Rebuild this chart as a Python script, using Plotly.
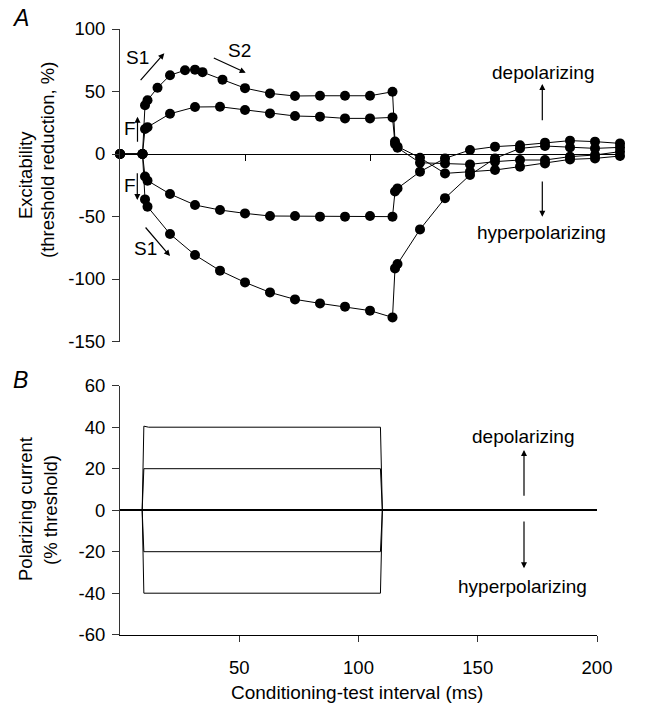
import plotly.graph_objects as go

# ---------------- data (Panel A: excitability, % threshold reduction) ----------------
x_d40 = [0, 9, 10, 11, 15, 20, 26, 30, 33, 41, 50, 60, 70, 80, 90, 100, 109, 110, 111,
         120, 130, 140, 150, 160, 170, 180, 190, 200]
y_d40 = [0, 0, 39, 43, 53, 63, 67, 67.5, 65.5, 59.5, 52.7, 48.5, 46.4, 46.6, 46.6, 46.6, 49.8, 10, 6,
         -3, -15.5, -14, -12.8, -10.1, -7.5, -4.3, -3.5, -1.6]

x_d20 = [0, 9, 10, 11, 20, 30, 40, 50, 60, 70, 80, 90, 100, 109, 110, 111,
         120, 130, 140, 150, 160, 170, 180, 190, 200]
y_d20 = [0, 0, 20, 21.5, 32.2, 37.6, 37.8, 35.2, 32.5, 30.4, 29.9, 28.5, 28.5, 29.3, 8, 5,
         -7, -7.5, -8.3, -6.1, -4.8, -4.8, -2.1, -0.8, 1.9]

x_h20 = [0, 9, 10, 11, 20, 30, 40, 50, 60, 70, 80, 90, 100, 109, 110, 111,
         120, 130, 140, 150, 160, 170, 180, 190, 200]
y_h20 = [0, 0, -18, -21.3, -32, -40.8, -44.8, -47.5, -49.6, -49.6, -50.1, -50.1, -49.6, -50.1, -30, -27.5,
         -14.1, -3.5, 3.2, 5.9, 7, 9.1, 10.7, 9.9, 8.5]

x_h40 = [0, 9, 10, 11, 20, 30, 40, 50, 60, 70, 80, 90, 100, 109, 110, 111,
         120, 130, 140, 150, 160, 170, 180, 190, 200]
y_h40 = [0, 0, -36.3, -42.1, -64, -80.8, -93.3, -102.7, -110.7, -116.3, -119.5, -122.1, -125.3, -130.7, -91.5, -88,
         -60.3, -35.3, -16.8, -3.5, 4.5, 6.4, 5.3, 4.5, 5.3]

# ---------------- data (Panel B: polarizing current, % threshold) ----------------
x_cur = [0, 9.3, 10, 12, 109.2, 110, 200]
cur_p40 = [0, 0, 40.5, 40, 40, 0, 0]
cur_p20 = [0, 0, 20, 20, 20, 0, 0]
cur_m20 = [0, 0, -20, -20, -20, 0, 0]
cur_m40 = [0, 0, -40, -40, -40, 0, 0]

yticks_a = [-150, -100, -50, 0, 50, 100]
yticks_b = [-60, -40, -20, 0, 20, 40, 60]
xticks = [50, 100, 150, 200]

W, H = 645, 705
FONT = "Liberation Sans, Arial, Helvetica, sans-serif"
FS = 18.5      # tick labels
FT = 19        # titles / annotations


def px(x):
    return x / W


def py(y):
    return 1 - y / H


fig = go.Figure()

for xs, ys in [(x_d40, y_d40), (x_d20, y_d20), (x_h20, y_h20), (x_h40, y_h40)]:
    fig.add_trace(go.Scatter(
        x=xs, y=ys, mode="lines+markers", xaxis="x", yaxis="y",
        line=dict(color="black", width=1),
        marker=dict(color="black", size=10),
        cliponaxis=False, showlegend=False, hoverinfo="skip"))

for ys in [cur_p40, cur_p20, cur_m20, cur_m40]:
    fig.add_trace(go.Scatter(
        x=x_cur, y=ys, mode="lines", xaxis="x2", yaxis="y2",
        line=dict(color="black", width=1),
        cliponaxis=False, showlegend=False, hoverinfo="skip"))

axcol = "#333333"
fig.update_layout(
    width=W, height=H, autosize=False,
    margin=dict(l=0, r=0, t=0, b=0, pad=0),
    paper_bgcolor="white", plot_bgcolor="white",
    font=dict(family=FONT, size=FS, color="black"),
    xaxis=dict(domain=[px(120), px(620)], range=[0, 200], anchor="free", position=py(154),
               showline=True, linecolor="black", linewidth=1, ticks="outside", ticklen=6,
               tickcolor="black", tickvals=xticks, showticklabels=False,
               showgrid=False, zeroline=False, automargin=False),
    yaxis=dict(domain=[py(341.5), py(29)], range=[-150, 100], anchor="x",
               showline=True, linecolor=axcol, linewidth=1, ticks="outside", ticklen=7,
               tickcolor=axcol, tickvals=yticks_a, ticktext=[str(v) for v in yticks_a],
               showgrid=False, zeroline=False, automargin=False,
               tickfont=dict(size=FS), ticklabelstandoff=3),
    xaxis2=dict(domain=[px(120), px(597)], range=[0, 200], anchor="y2",
                showline=True, linecolor="black", linewidth=1, ticks="outside", ticklen=6,
                tickcolor=axcol, tickvals=xticks, ticktext=[str(v) for v in xticks],
                showgrid=False, zeroline=False, automargin=False,
                tickfont=dict(size=FS), ticklabelstandoff=10),
    yaxis2=dict(domain=[py(634.7), py(385.7)], range=[-60, 60], anchor="x2",
                showline=True, linecolor=axcol, linewidth=1, ticks="outside", ticklen=7,
                tickcolor=axcol, tickvals=yticks_b, ticktext=[str(v) for v in yticks_b],
                showgrid=False, automargin=False,
                zeroline=True, zerolinecolor="black", zerolinewidth=1.5,
                tickfont=dict(size=FS), ticklabelstandoff=3),
)

ann = []


def text(t, x, y, size=FT, angle=0):
    ann.append(dict(text=t, x=px(x), y=py(y), xref="paper", yref="paper",
                    showarrow=False, xanchor="center", yanchor="middle",
                    textangle=angle, font=dict(size=size, family=FONT, color="black")))


def arrow(tail, head):
    ann.append(dict(text="", x=px(head[0]), y=py(head[1]), xref="paper", yref="paper",
                    ax=tail[0] - head[0], ay=tail[1] - head[1],
                    showarrow=True, arrowhead=2, arrowsize=1, arrowwidth=1.2,
                    arrowcolor="black"))


text("<i>A</i>", 20, 18, size=23)
text("<i>B</i>", 20, 380, size=23)
text("Excitability", 25, 175, size=18.5, angle=-90)
text("(threshold reduction, %)", 47, 160, size=18.5, angle=-90)
text("Polarizing current", 25, 509, size=18.5, angle=-90)
text("(% threshold)", 50, 510, size=18.5, angle=-90)
text("Conditioning-test interval (ms)", 357, 692)

text("S1", 137, 57)
text("S2", 239, 51)
text("F", 130, 129)
text("F", 130, 185)
text("S1", 145, 249)
text("depolarizing", 543, 72)
text("hyperpolarizing", 541, 232)
text("depolarizing", 523, 436)
text("hyperpolarizing", 522, 586)

arrow((139.3, 81.7), (164.3, 53.3))
arrow((212.3, 57.3), (245.7, 72.7))
arrow((137.5, 143.3), (137.5, 116.7))
arrow((137.3, 171.7), (137.3, 200))
arrow((144.3, 226), (170, 256))
arrow((542.3, 121.7), (542.3, 84))
arrow((542.3, 180), (542.3, 216.7))
arrow((524, 497.3), (524, 450))
arrow((524, 520), (524, 568.3))

fig.update_layout(annotations=ann)
fig.write_html("out.html")
